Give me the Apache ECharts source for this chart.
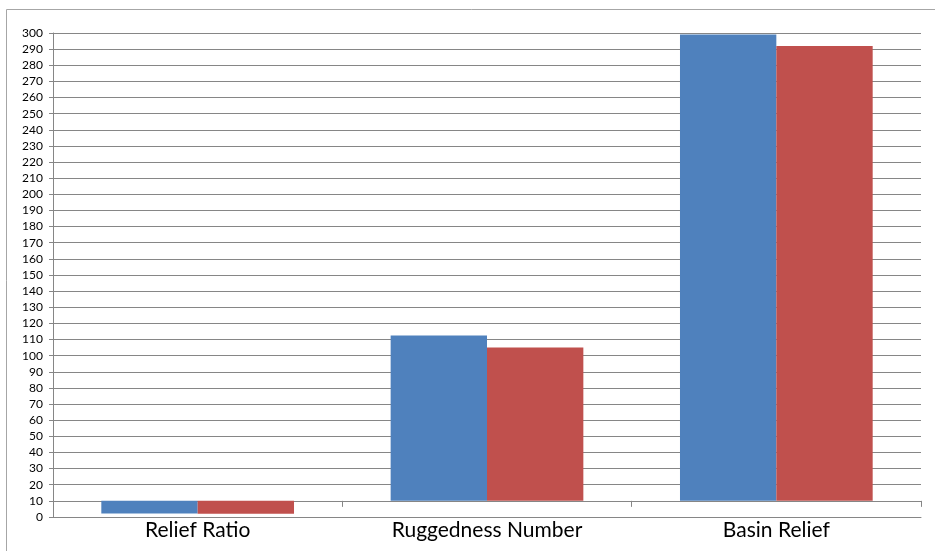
<!DOCTYPE html>
<html>
<head>
<meta charset="utf-8">
<script src="https://cdn.jsdelivr.net/npm/echarts@6/dist/echarts.min.js"></script>
<style>
  html, body { margin: 0; padding: 0; background: #ffffff; }
  #chart { width: 935px; height: 551px; }
</style>
</head>
<body>
<div id="chart"></div>
<script>
// Categories and the two compared series
const categories = ['Relief Ratio', 'Ruggedness Number', 'Basin Relief'];
const seriesBlue = [2.2, 112.5, 299];
const seriesRed = [2.0, 105, 292];
// Value at which the horizontal axis crosses; bars grow from here
const axisCross = 10;
// Value axis range and step
const yMin = 0;
const yMax = 300;
const yStep = 10;

const COLOR_BLUE = '#4F81BD';
const COLOR_RED = '#C0504D';
const GRID_COLOR = '#868686';
const FONT = 'Lato, "Open Sans", sans-serif';

// Layout of the plot area
const gridLeft = 53, gridRight = 14, gridTop = 33, gridBottom = 34;
const plotHeight = 551 - gridTop - gridBottom;
// Bottom offset of the crossing line, used by the tick-only axis
const crossBottom = gridBottom + (axisCross - yMin) / (yMax - yMin) * plotHeight;

// Each bar spans from the crossing value to its own value
const baseOf = v => Math.min(v, axisCross);
const spanOf = v => Math.abs(v - axisCross);

function barPair(values, stack, color, name) {
  return [
    {
      type: 'bar', stack: stack, xAxisIndex: 0, yAxisIndex: 0,
      data: values.map(baseOf),
      itemStyle: { color: 'transparent' },
      silent: true, barGap: '0%', barCategoryGap: '33.4%'
    },
    {
      type: 'bar', stack: stack, name: name, xAxisIndex: 0, yAxisIndex: 0,
      data: values.map(spanOf),
      itemStyle: { color: color },
      barGap: '0%', barCategoryGap: '33.4%'
    }
  ];
}

const chart = echarts.init(document.getElementById('chart'), null, { renderer: 'canvas' });

chart.setOption({
  backgroundColor: '#ffffff',
  animation: false,
  graphic: [{
    type: 'rect',
    shape: { x: 6.5, y: 9.5, width: 940, height: 600 },
    style: { fill: 'none', stroke: '#a6a6a6', lineWidth: 1 },
    silent: true, z: -1
  }],
  grid: [
    { left: gridLeft, right: gridRight, top: gridTop, bottom: gridBottom },
    { left: gridLeft, right: gridRight, top: gridTop, bottom: crossBottom }
  ],
  xAxis: [
    {
      type: 'category', gridIndex: 0, data: categories,
      axisLine: { show: true, lineStyle: { color: GRID_COLOR, width: 1 } },
      axisTick: { show: false },
      axisLabel: { color: '#000000', fontFamily: FONT, fontSize: 21, margin: 3 }
    },
    {
      // Tick marks hanging below the crossing line
      type: 'category', gridIndex: 1, data: categories,
      axisLine: { show: false },
      axisTick: { show: true, length: 6, lineStyle: { color: GRID_COLOR, width: 1 } },
      axisLabel: { show: false },
      splitLine: { show: false }
    }
  ],
  yAxis: [
    {
      type: 'value', gridIndex: 0, min: yMin, max: yMax, interval: yStep,
      axisLine: { show: true, lineStyle: { color: GRID_COLOR, width: 1 } },
      axisTick: { show: true, length: 4, lineStyle: { color: GRID_COLOR } },
      axisLabel: { color: '#000000', fontFamily: FONT, fontSize: 12, margin: 10 },
      splitLine: { show: true, lineStyle: { color: GRID_COLOR, width: 1 } }
    },
    {
      type: 'value', gridIndex: 1, min: 0, max: 1, show: false,
      axisLine: { show: false }, axisTick: { show: false },
      axisLabel: { show: false }, splitLine: { show: false }
    }
  ],
  series: [
    ...barPair(seriesBlue, 'blue', COLOR_BLUE, 'Series 1'),
    ...barPair(seriesRed, 'red', COLOR_RED, 'Series 2')
  ]
});
</script>
</body>
</html>
